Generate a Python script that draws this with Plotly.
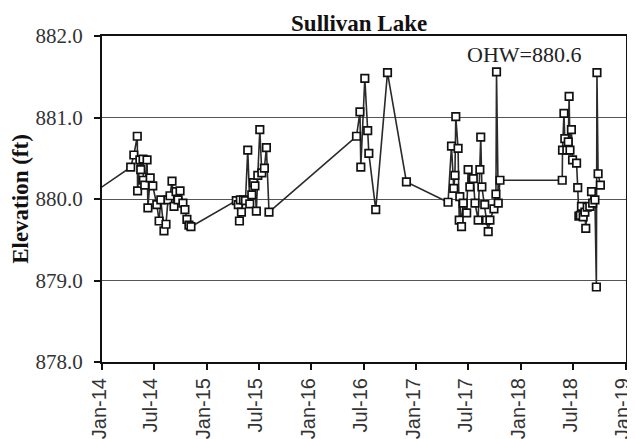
import plotly.graph_objects as go

dates = [
    "2013-09-20",
    # 2014
    "2014-04-11", "2014-04-22", "2014-05-04", "2014-05-05", "2014-05-13", "2014-05-16",
    "2014-05-24", "2014-05-25", "2014-05-30", "2014-06-07", "2014-06-10", "2014-06-18",
    "2014-06-27", "2014-07-11", "2014-07-19", "2014-07-25", "2014-08-05", "2014-08-12",
    "2014-08-19", "2014-08-26", "2014-09-02", "2014-09-09", "2014-09-16", "2014-09-23",
    "2014-09-30", "2014-10-10", "2014-10-17", "2014-10-24", "2014-10-31", "2014-11-07",
    # 2015
    "2015-04-14", "2015-04-21", "2015-04-25", "2015-04-28", "2015-05-02", "2015-05-09",
    "2015-05-16", "2015-05-24", "2015-05-31", "2015-06-07", "2015-06-13", "2015-06-18",
    "2015-06-23", "2015-06-28", "2015-07-05", "2015-07-12", "2015-07-21", "2015-07-28",
    "2015-08-06",
    # 2016
    "2016-06-06", "2016-06-18", "2016-06-21", "2016-07-05", "2016-07-15", "2016-07-19",
    "2016-08-12", "2016-09-22", "2016-11-27",
    # 2017
    "2017-04-21", "2017-05-03", "2017-05-11", "2017-05-15", "2017-05-18", "2017-05-26",
    "2017-05-30", "2017-06-01", "2017-06-07", "2017-06-13", "2017-06-25", "2017-06-30",
    "2017-07-06", "2017-07-18", "2017-07-24", "2017-08-04", "2017-08-10", "2017-08-13",
    "2017-08-17", "2017-08-27", "2017-09-02", "2017-09-08", "2017-09-14", "2017-09-28",
    "2017-10-05", "2017-10-07", "2017-10-13", "2017-10-19",
    # 2018
    "2018-05-24", "2018-05-25", "2018-05-30", "2018-06-02", "2018-06-09", "2018-06-14",
    "2018-06-17", "2018-06-20", "2018-06-25", "2018-06-29", "2018-07-13", "2018-07-17",
    "2018-07-21", "2018-07-26", "2018-07-30", "2018-08-05", "2018-08-11", "2018-08-14",
    "2018-08-19", "2018-08-28", "2018-09-03", "2018-09-07", "2018-09-15", "2018-09-20",
    "2018-09-22", "2018-09-26", "2018-10-04",
]

elevation = [
    879.90,
    # 2014
    880.39, 880.54, 880.77, 880.10, 880.48, 880.36,
    880.49, 880.23, 880.17, 880.48, 879.89, 880.26,
    880.16, 879.93, 879.73, 879.99, 879.61, 879.69,
    879.99, 880.04, 880.22, 879.91, 880.09, 879.99,
    880.10, 879.95, 879.87, 879.75, 879.68, 879.66,
    # 2015
    879.98, 879.93, 879.73, 879.99, 879.84, 879.99,
    879.98, 880.60, 879.94, 880.05, 880.20, 880.16,
    879.85, 880.29, 880.85, 880.32, 880.38, 880.63,
    879.84,
    # 2016
    880.77, 881.07, 880.39, 881.48, 880.84, 880.56,
    879.87, 881.55, 880.21,
    # 2017
    879.96, 880.65, 880.13, 880.29, 881.01, 880.62,
    879.74, 880.03, 879.66, 879.95, 879.83, 880.36,
    880.15, 880.25, 879.95, 879.74, 880.36, 880.76,
    880.15, 879.93, 879.74, 879.60, 879.74, 879.88,
    880.06, 881.56, 879.95, 880.23,
    # 2018
    880.23, 880.60, 881.05, 880.74, 880.60, 880.70,
    881.26, 880.60, 880.85, 880.48, 880.44, 880.14,
    879.79, 879.80, 879.91, 879.78, 879.84, 879.64,
    879.90, 879.91, 880.09, 879.95, 879.99, 878.92,
    881.55, 880.31, 880.17,
]

tick_dates = ["2014-01-01", "2014-07-01", "2015-01-01", "2015-07-01", "2016-01-01",
              "2016-07-01", "2017-01-01", "2017-07-01", "2018-01-01", "2018-07-01",
              "2019-01-01"]
tick_labels = ["Jan-14", "Jul-14", "Jan-15", "Jul-15", "Jan-16", "Jul-16",
               "Jan-17", "Jul-17", "Jan-18", "Jul-18", "Jan-19"]
y_ticks = [878.0, 879.0, 880.0, 881.0, 882.0]

title_text = "Sullivan Lake"
ohw_text = "OHW=880.6"

serif = "Liberation Serif, Times New Roman, serif"
sans = "Liberation Sans, Arial, sans-serif"

fig = go.Figure()
fig.add_trace(go.Scatter(
    x=dates, y=elevation, mode="lines+markers",
    line=dict(color="#2a2a2a", width=1.6),
    marker=dict(symbol="square", size=7.5, color="white",
                line=dict(color="#111111", width=1.7)),
    showlegend=False,
))

fig.add_annotation(
    x="2018-01-10", y=881.77, text=ohw_text, showarrow=False,
    font=dict(family=serif, size=22, color="#222222"),
)

fig.update_layout(
    width=627, height=431,
    margin=dict(l=94, r=9, t=28, b=77, autoexpand=False),
    paper_bgcolor="white", plot_bgcolor="white",
    title=dict(text="<b>" + title_text + "</b>", x=0.56, xanchor="center",
               y=0.966, yanchor="middle",
               font=dict(family=serif, size=23, color="#111111")),
)
fig.update_xaxes(
    range=["2014-01-01", "2019-01-01 06:00"],
    tickvals=tick_dates, ticktext=tick_labels, tickangle=-90,
    tickfont=dict(family=sans, size=20, color="#333333"),
    ticklabeloverflow="allow", ticklabelshift=-3,
    ticks="outside", ticklen=6, tickcolor="#111111", tickwidth=1.5,
    showgrid=False, showline=True, linecolor="#111111", linewidth=2, mirror=True,
    zeroline=False,
)
fig.update_yaxes(
    range=[878.0, 882.0],
    tickvals=y_ticks, tickformat=".1f",
    tickfont=dict(family=serif, size=21, color="#333333"),
    ticklabelstandoff=7,
    ticks="outside", ticklen=6, tickcolor="#111111", tickwidth=1.5,
    showgrid=True, gridcolor="#555555", gridwidth=1.2,
    showline=True, linecolor="#111111", linewidth=2, mirror=True,
    zeroline=False,
    title=dict(text="<b>Elevation (ft)</b>", standoff=7,
               font=dict(family=serif, size=23, color="#111111")),
)

fig.write_html("out.html")
